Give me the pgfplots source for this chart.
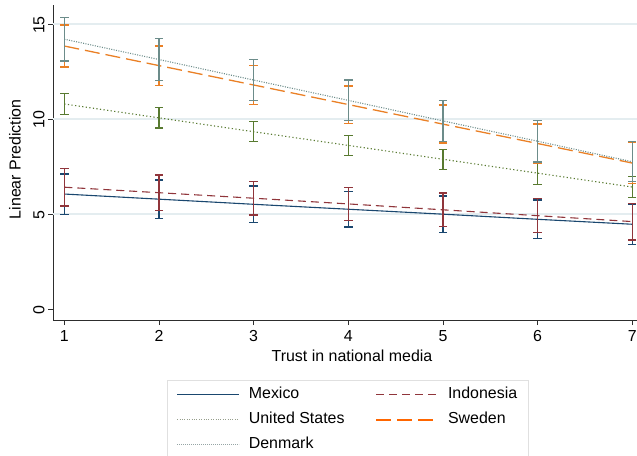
\documentclass[border=0pt]{standalone}
\usepackage{fontspec}
\setmainfont{Liberation Sans}
\usepackage{pgfplots}
\pgfplotsset{compat=1.18}
\definecolor{cNavy}{RGB}{26,71,111}
\definecolor{cMaroon}{RGB}{144,53,59}
\definecolor{cGreen}{RGB}{88,122,48}
\definecolor{cOrange}{RGB}{234,128,38}
\definecolor{cTeal}{RGB}{108,140,138}
\definecolor{cGrid}{RGB}{228,237,240}
\definecolor{cAxis}{RGB}{45,45,45}
\definecolor{cLegUS}{RGB}{150,158,140}
\definecolor{cLegDK}{RGB}{150,165,165}
\begin{document}
\begin{tikzpicture}
\begin{axis}[
  scale only axis, width=584bp, height=315bp,
  xmin=0.88, xmax=7.05, ymin=-0.58, ymax=16,
  axis lines=left,
  axis line style={-, draw=cAxis, line width=1bp},
  xtick={1,2,3,4,5,6,7}, ytick={0,5,10,15},
  /pgf/number format/assume math mode=true,
  tick align=outside, major tick length=5bp,
  tick style={draw=cAxis, line width=0.9bp},
  extra y ticks={5,10,15}, extra y tick labels={},
  extra y tick style={grid=major, major tick length=0pt},
  grid style={draw=cGrid, line width=1.3bp},
  ticklabel style={font=\fontsize{16}{18}\selectfont},
  yticklabel style={rotate=90, anchor=south, xshift=-1bp},
  xticklabel style={yshift=-2bp},
  xlabel={Trust in national media}, ylabel={Linear Prediction},
  label style={font=\fontsize{16}{18}\selectfont},
  xlabel style={at={(axis description cs:0.512,-0.114)}, anchor=center},
  ylabel style={at={(axis description cs:-0.065,0.51)}, anchor=center},
  error bars/y dir=both, error bars/y explicit,
  error bars/error bar style={solid, line width=1.3bp},
  error bars/error mark options={rotate=90, mark size=4.2bp, line width=1.3bp, solid},
  legend columns=2, legend cell align=left,
  legend image code/.code={\draw[#1] (0bp,0bp) -- (62bp,0bp);},
  legend style={at={(axis description cs:0.505,-0.19)}, anchor=north,
    draw=black!12, line width=0.8bp, inner xsep=9bp, inner ysep=5bp,
    font=\fontsize{16}{18}\selectfont,
    nodes={text height=11.5bp, text depth=3.5bp, inner ysep=2bp},
    row sep=6bp,
    /tikz/every odd column/.append style={column sep=7bp},
    /tikz/every even column/.append style={column sep=29bp}},
]
\addlegendimage{color=cNavy, solid, line width=1.2bp}
\addlegendentry{Mexico}
\addlegendimage{color=cMaroon, line width=1.2bp, dash pattern=on 8bp off 5bp}
\addlegendentry{Indonesia}
\addlegendimage{color=cLegUS, line width=0.8bp, dash pattern=on 0.8bp off 1.6bp}
\addlegendentry{United States}
\addlegendimage{color=orange!80!red, line width=1.5bp, dash pattern=on 15bp off 6bp}
\addlegendentry{Sweden}
\addlegendimage{color=cLegDK, line width=0.8bp, dash pattern=on 0.8bp off 1.2bp}
\addlegendentry{Denmark}
\addplot[forget plot, cNavy, solid, line width=1.1bp] coordinates {
  (1,6.05) +- (0,1.06) (2,5.78) +- (0,1.01) (3,5.51) +- (0,0.96)
  (4,5.25) +- (0,0.94) (5,4.99) +- (0,0.96) (6,4.72) +- (0,1.01)
  (7,4.46) +- (0,1.07)};
\addplot[forget plot, cMaroon, line width=1.1bp, dash pattern=on 8bp off 5bp] coordinates {
  (1,6.41) +- (0,0.99) (2,6.12) +- (0,0.93) (3,5.83) +- (0,0.88)
  (4,5.53) +- (0,0.87) (5,5.22) +- (0,0.88) (6,4.91) +- (0,0.90)
  (7,4.60) +- (0,0.97)};
\addplot[forget plot, cGreen, line width=1.1bp, dash pattern=on 1.2bp off 2.4bp] coordinates {
  (1,10.79) +- (0,0.57) (2,10.06) +- (0,0.54) (3,9.33) +- (0,0.53)
  (4,8.61) +- (0,0.53) (5,7.88) +- (0,0.53) (6,7.15) +- (0,0.58)
  (7,6.42) +- (0,0.56)};
\addplot[forget plot, cOrange, line width=1.3bp, dash pattern=on 15bp off 6bp] coordinates {
  (1,13.84) +- (0,1.10) (2,12.81) +- (0,1.03) (3,11.79) +- (0,1.01)
  (4,10.76) +- (0,0.98) (5,9.73) +- (0,1.00) (6,8.71) +- (0,1.03)
  (7,7.68) +- (0,1.07)};
\addplot[forget plot, cTeal, line width=1.1bp, dash pattern=on 1bp off 1.4bp] coordinates {
  (1,14.20) +- (0,1.15) (2,13.13) +- (0,1.11) (3,12.05) +- (0,1.07)
  (4,10.98) +- (0,1.07) (5,9.90) +- (0,1.07) (6,8.83) +- (0,1.10)
  (7,7.75) +- (0,1.05)};
\end{axis}
\pgfresetboundingbox
\path[use as bounding box] ([shift={(-53bp,-136bp)}]current axis.south west) rectangle ([shift={(0bp,5bp)}]current axis.north east);
\end{tikzpicture}
\end{document}
